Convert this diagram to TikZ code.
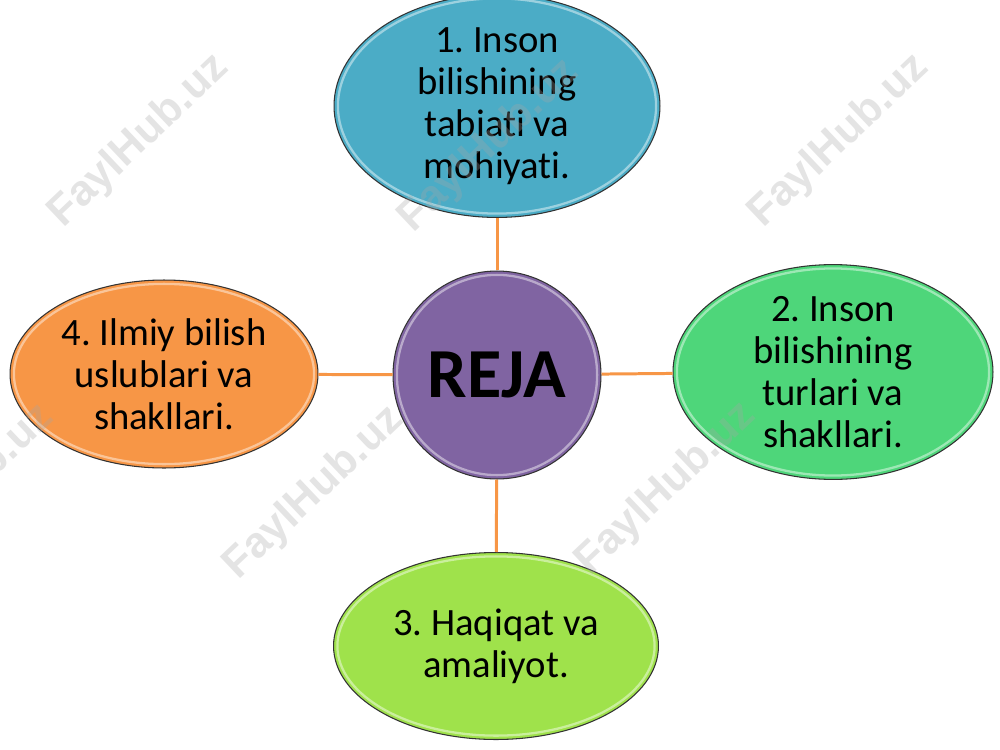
\documentclass[tikz,border=0pt]{standalone}
\usepackage{fontspec}
\setmainfont{Carlito}[Ligatures=NoCommon]
\newfontfamily\wmfont{Liberation Sans}
\usetikzlibrary{calc,shapes.geometric}
\frenchspacing
\definecolor{cblue}{HTML}{4BACC6}
\definecolor{cpurple}{HTML}{8064A2}
\definecolor{cgreen}{HTML}{4ED67A}
\definecolor{clime}{HTML}{9FE24B}
\definecolor{corange}{HTML}{F79646}
\definecolor{cline}{HTML}{F79646}
\tikzset{
  gloss/.style={path picture={
    \draw[white,opacity=.45,line width=1.3pt]
      let \p1=($(path picture bounding box.north east)-(path picture bounding box.center)$)
      in (path picture bounding box.center) ellipse ({abs(\x1)-2.2pt} and {abs(\y1)-2.2pt});}},
  bubble/.style={ellipse, draw=black!80, line width=0.6pt, inner sep=0pt, align=center,
    font=\fontsize{22}{24}\selectfont\frenchspacing, text=black, gloss},
  hub/.style={circle, draw=black!80, line width=0.6pt, inner sep=0pt, minimum size=4.16cm,
    font=\fontsize{40}{42}\selectfont\bfseries, fill=cpurple, gloss},
  link/.style={draw=cline, line width=1.7pt},
  wm/.style={font=\wmfont\bfseries\fontsize{24.5}{26}\selectfont, text=black!35, opacity=.3, rotate=43.5}
}
\begin{document}
\begin{tikzpicture}[x=0.02cm,y=-0.02cm]
\useasboundingbox (0,0) rectangle (1000,750);
\fill[white] (0,0) rectangle (1000,750);
\node[hub] (c) at (497,375) {REJA};
\node[bubble, fill=cblue, minimum width=6.52cm, minimum height=3.76cm] (t) at (497,106)
  {1. Inson\\bilishining\\tabiati va\\mohiyati.};
\node[bubble, fill=cgreen, minimum width=6.4cm, minimum height=3.68cm] (r) at (833,372)
  {2. Inson\\bilishining\\turlari va\\shakllari.};
\node[bubble, fill=clime, minimum width=6.5cm, minimum height=3.74cm] (b) at (496,646)
  {3. Haqiqat va\\amaliyot.};
\node[bubble, fill=corange, minimum width=6.16cm, minimum height=3.76cm] (l) at (164,374)
  {4. Ilmiy bilish\\uslublari va\\shakllari.};
\draw[link] (c) -- (t);
\draw[link] (c) -- (r);
\draw[link] (c) -- (b);
\draw[link] (c) -- (l);
\begin{scope}
\clip (0,0) rectangle (1000,750);
\node[wm] (w1) at (139,141) {FaylHub.uz};
\node[wm] (w2) at (489,146) {FaylHub.uz};
\node[wm] (w3) at (839,141) {FaylHub.uz};
\node[wm] (w4) at (-36,491) {FaylHub.uz};
\node[wm] (w5) at (314,493) {FaylHub.uz};
\node[wm] (w6) at (666,489) {FaylHub.uz};
\end{scope}
\end{tikzpicture}
\end{document}
